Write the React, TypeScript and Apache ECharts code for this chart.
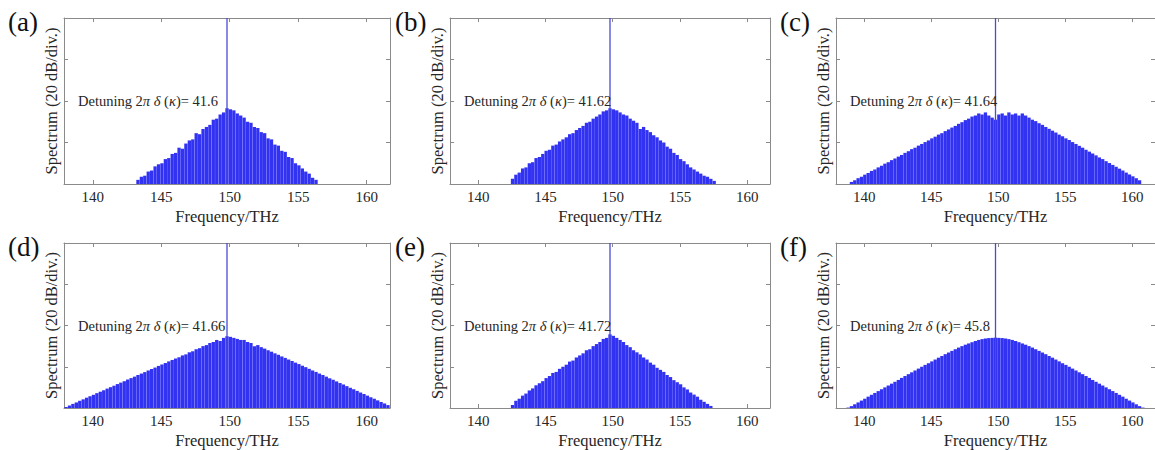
import React, { useEffect, useRef } from "react";
import * as echarts from "echarts";

// ---------- data ----------
const FSR = 0.25; // comb line spacing (THz)
const PUMP_FREQ = 149.8;
const X_MIN = 137.9;
const X_MAX = 161.7;
const Y_MIN = 0;
const Y_MAX = 80; // 4 div x 20 dB
const X_TICKS = [140, 145, 150, 155, 160];
const Y_TICKS = [0, 20, 40, 60, 80];

const panelLabels = ["(a)", "(b)", "(c)", "(d)", "(e)", "(f)"];
const detuningValues = ["41.6", "41.62", "41.64", "41.66", "41.72", "45.8"];

// first comb line (THz) of each panel
const combStarts = [143.3, 142.55, 139.05, 138.05, 142.55, 138.8];

// comb line powers in dB above floor, one per FSR
const combA = [
  2.0, 3.5, 4.0, 6.0, 6.5, 8.5, 9.5, 10.0, 12.0, 12.5, 14.5, 15.0, 17.5, 17.0, 19.5, 21.0, 21.5, 24.5, 24.0, 26.5,
  27.5, 28.5, 31.0, 31.5, 33.5, 34.5, 36.5, 36.0, 35.5, 34.0, 33.0, 32.0, 30.0, 29.5, 27.5, 27.0, 25.0, 24.5, 22.0,
  21.5, 19.0, 18.5, 16.0, 15.5, 13.0, 12.5, 10.0, 9.0, 7.5, 6.0, 5.0, 3.0, 2.0,
];
const combB = [
  2.5, 4.5, 5.5, 7.5, 8.0, 10.0, 10.5, 12.5, 13.0, 14.5, 16.0, 16.5, 18.5, 19.0, 20.5, 21.5, 22.5, 24.0, 24.5, 26.0,
  27.0, 28.0, 29.5, 30.0, 31.5, 32.5, 33.5, 35.0, 35.5, 36.5, 36.0, 35.5, 34.5, 33.5, 33.0, 31.5, 30.5, 29.5, 26.5,
  27.5, 26.0, 25.0, 23.5, 22.5, 21.0, 20.0, 18.0, 17.0, 15.0, 14.0, 12.0, 11.0, 9.5, 8.0, 7.0, 6.0, 5.0, 4.0, 3.5,
  2.5, 1.5,
];
const combC = [
  1.0, 1.8, 2.8, 3.5, 4.5, 5.3, 6.3, 7.0, 8.0, 8.8, 9.8, 10.5, 11.5, 12.3, 13.2, 14.0, 15.0, 15.8, 16.8, 17.5, 18.5,
  19.3, 20.2, 21.0, 22.0, 22.8, 23.8, 24.5, 25.5, 26.3, 27.2, 28.0, 29.0, 29.8, 30.8, 31.5, 32.5, 33.0, 34.0, 33.5,
  34.5, 33.0, 32.0, 31.0, 33.5, 34.0, 33.0, 34.5, 33.5, 34.0, 33.0, 34.0, 33.0, 32.0, 31.0, 30.3, 29.3, 28.5, 27.5,
  26.6, 25.7, 24.8, 23.8, 23.0, 22.0, 21.2, 20.2, 19.3, 18.4, 17.5, 16.5, 15.6, 14.7, 13.8, 12.8, 12.0, 11.0, 10.1,
  9.2, 8.3, 7.4, 6.5, 5.5, 4.6, 3.7, 2.8, 1.8,
];
const combD = [
  0.5, 1.2, 2.0, 2.7, 3.5, 4.2, 5.0, 5.7, 6.4, 7.2, 7.9, 8.6, 9.4, 10.1, 10.8, 11.6, 12.3, 13.0, 13.8, 14.5, 15.2,
  16.0, 16.7, 17.4, 18.2, 18.9, 19.6, 20.4, 21.1, 21.8, 22.6, 23.3, 24.0, 24.6, 25.5, 26.0, 27.0, 27.5, 28.5, 29.0,
  30.0, 30.5, 31.5, 32.0, 33.0, 32.5, 34.0, 34.8, 34.5, 34.0, 33.5, 33.0, 33.0, 32.0, 31.5, 30.0, 30.5, 29.5, 28.8,
  28.0, 27.3, 26.5, 25.8, 25.0, 24.3, 23.5, 22.8, 22.0, 21.3, 20.5, 19.8, 19.0, 18.2, 17.5, 16.7, 16.0, 15.2, 14.4,
  13.7, 12.9, 12.1, 11.4, 10.6, 9.8, 9.1, 8.3, 7.5, 6.8, 6.0, 5.2, 4.5, 3.7, 2.9, 2.2, 1.4,
];
const combE = [
  1.5, 3.5, 4.5, 6.0, 7.0, 8.5, 9.5, 11.0, 12.0, 13.0, 14.5, 15.5, 17.0, 17.5, 19.0, 20.0, 21.0, 22.5, 23.0, 24.5,
  25.5, 26.5, 28.0, 28.5, 30.0, 31.0, 32.0, 33.5, 34.0, 35.7, 35.0, 34.0, 33.0, 32.0, 30.5, 29.5, 28.0, 27.0, 26.0,
  24.5, 23.5, 22.0, 21.0, 19.5, 18.5, 17.5, 16.0, 15.0, 13.5, 12.5, 11.5, 10.0, 9.0, 7.5, 6.5, 5.5, 4.0, 3.0, 2.0,
  1.0,
];
const combF = [
  0.2, 0.9, 1.8, 2.7, 3.6, 4.5, 5.5, 6.4, 7.3, 8.2, 9.1, 10.0, 10.9, 11.8, 12.7, 13.6, 14.6, 15.5, 16.4, 17.3, 18.2,
  19.1, 20.0, 20.9, 21.7, 22.6, 23.5, 24.4, 25.2, 26.1, 26.9, 27.7, 28.5, 29.3, 30.0, 30.7, 31.3, 31.9, 32.5, 33.0,
  33.4, 33.7, 33.9, 34.0, 34.1, 34.0, 33.9, 33.7, 33.4, 33.0, 32.5, 31.9, 31.3, 30.7, 30.0, 29.3, 28.5, 27.7, 26.9,
  26.1, 25.2, 24.4, 23.5, 22.6, 21.7, 20.9, 20.0, 19.1, 18.2, 17.3, 16.4, 15.5, 14.6, 13.6, 12.7, 11.8, 10.9, 10.0,
  9.1, 8.2, 7.3, 6.4, 5.5, 4.5, 3.6, 2.7, 1.8, 0.9, 0.2,
];
const combs = [combA, combB, combC, combD, combE, combF];

// ---------- layout ----------
const COL_LEFT = [64, 450, 836];
const COL_WIDTH = [326, 320, 324];
const ROW_TOP = [18, 243];
const GRID_H = 166;
const LABEL_X = [8, 395, 780];
const FONT = "'Times New Roman', 'Liberation Serif', serif";
const AXIS_COLOR = "#8a8a8a";
const TEXT_COLOR = "#262626";
const BAR_COLOR = "#3232f2";
const PUMP_COLOR = "#4a4ad8";

export default function App() {
  const ref = useRef<HTMLDivElement>(null);

  useEffect(() => {
    if (!ref.current) return;
    const chart = echarts.init(ref.current, undefined, { renderer: "svg" });

    const grids: any[] = [];
    const xAxes: any[] = [];
    const yAxes: any[] = [];
    const series: any[] = [];
    const graphics: any[] = [];

    for (let p = 0; p < 6; p++) {
      const col = p % 3;
      const row = Math.floor(p / 3);
      const left = COL_LEFT[col];
      const top = ROW_TOP[row];
      grids.push({ left, top, width: COL_WIDTH[col], height: GRID_H, containLabel: false });

      const xBottom = xAxes.length;
      xAxes.push({
        type: "value",
        gridIndex: p,
        position: "bottom",
        min: X_MIN,
        max: X_MAX,
        name: "Frequency/THz",
        nameLocation: "middle",
        nameGap: 24,
        nameTextStyle: { fontFamily: FONT, fontSize: 16.5, color: TEXT_COLOR },
        axisLine: { show: true, onZero: false, lineStyle: { color: AXIS_COLOR, width: 1 } },
        axisTick: { show: true, inside: true, length: 4, customValues: X_TICKS, lineStyle: { color: AXIS_COLOR } },
        axisLabel: { show: true, customValues: X_TICKS, margin: 5, fontFamily: FONT, fontSize: 15, color: TEXT_COLOR },
        splitLine: { show: false },
      });
      xAxes.push({
        type: "value",
        gridIndex: p,
        position: "top",
        min: X_MIN,
        max: X_MAX,
        axisLine: { show: true, onZero: false, lineStyle: { color: AXIS_COLOR, width: 1 } },
        axisTick: { show: true, inside: true, length: 4, customValues: X_TICKS, lineStyle: { color: AXIS_COLOR } },
        axisLabel: { show: false },
        splitLine: { show: false },
      });

      const yLeft = yAxes.length;
      yAxes.push({
        type: "value",
        gridIndex: p,
        position: "left",
        min: Y_MIN,
        max: Y_MAX,
        interval: 20,
        name: "Spectrum (20 dB/div.)",
        nameLocation: "middle",
        nameGap: 4,
        nameTextStyle: { fontFamily: FONT, fontSize: 16.5, color: TEXT_COLOR },
        axisLine: { show: true, onZero: false, lineStyle: { color: AXIS_COLOR, width: 1 } },
        axisTick: { show: true, inside: true, length: 4, customValues: Y_TICKS, lineStyle: { color: AXIS_COLOR } },
        axisLabel: { show: false },
        splitLine: { show: false },
      });
      yAxes.push({
        type: "value",
        gridIndex: p,
        position: "right",
        min: Y_MIN,
        max: Y_MAX,
        interval: 20,
        axisLine: { show: true, onZero: false, lineStyle: { color: AXIS_COLOR, width: 1 } },
        axisTick: { show: true, inside: true, length: 4, customValues: Y_TICKS, lineStyle: { color: AXIS_COLOR } },
        axisLabel: { show: false },
        splitLine: { show: false },
      });

      const start = combStarts[p];
      const data = combs[p].map((v, i) => [Math.round((start + i * FSR) * 100) / 100, v]);
      series.push({
        type: "bar",
        xAxisIndex: xBottom,
        yAxisIndex: yLeft,
        data,
        barWidth: 3.3,
        itemStyle: { color: BAR_COLOR },
        silent: true,
      });
      series.push({
        type: "line",
        xAxisIndex: xBottom,
        yAxisIndex: yLeft,
        data: [
          [PUMP_FREQ, Y_MIN],
          [PUMP_FREQ, Y_MAX],
        ],
        symbol: "none",
        lineStyle: { color: PUMP_COLOR, width: 1.3 },
        z: 5,
        silent: true,
      });

      graphics.push({
        type: "text",
        left: LABEL_X[col],
        top: top - 10,
        style: { text: panelLabels[p], fontFamily: FONT, fontSize: 27, fill: "#111" },
      });
      graphics.push({
        type: "text",
        x: left + 14,
        y: top + 83,
        style: {
          text: `Detuning 2{i|π} {i|δ} ({i|κ})= ${detuningValues[p]}`,
          fontFamily: FONT,
          fontSize: 14.5,
          fill: TEXT_COLOR,
          verticalAlign: "middle",
          rich: { i: { fontFamily: FONT, fontSize: 14.5, fontStyle: "italic", fill: TEXT_COLOR } },
        },
        z: 10,
      });
    }

    chart.setOption({
      animation: false,
      backgroundColor: "#ffffff",
      textStyle: { fontFamily: FONT },
      grid: grids,
      xAxis: xAxes,
      yAxis: yAxes,
      series,
      graphic: graphics,
    });

    return () => chart.dispose();
  }, []);

  return (
    <div
      ref={ref}
      style={{ position: "fixed", left: 0, top: 0, width: 1155, height: 450, background: "#fff" }}
    />
  );
}
